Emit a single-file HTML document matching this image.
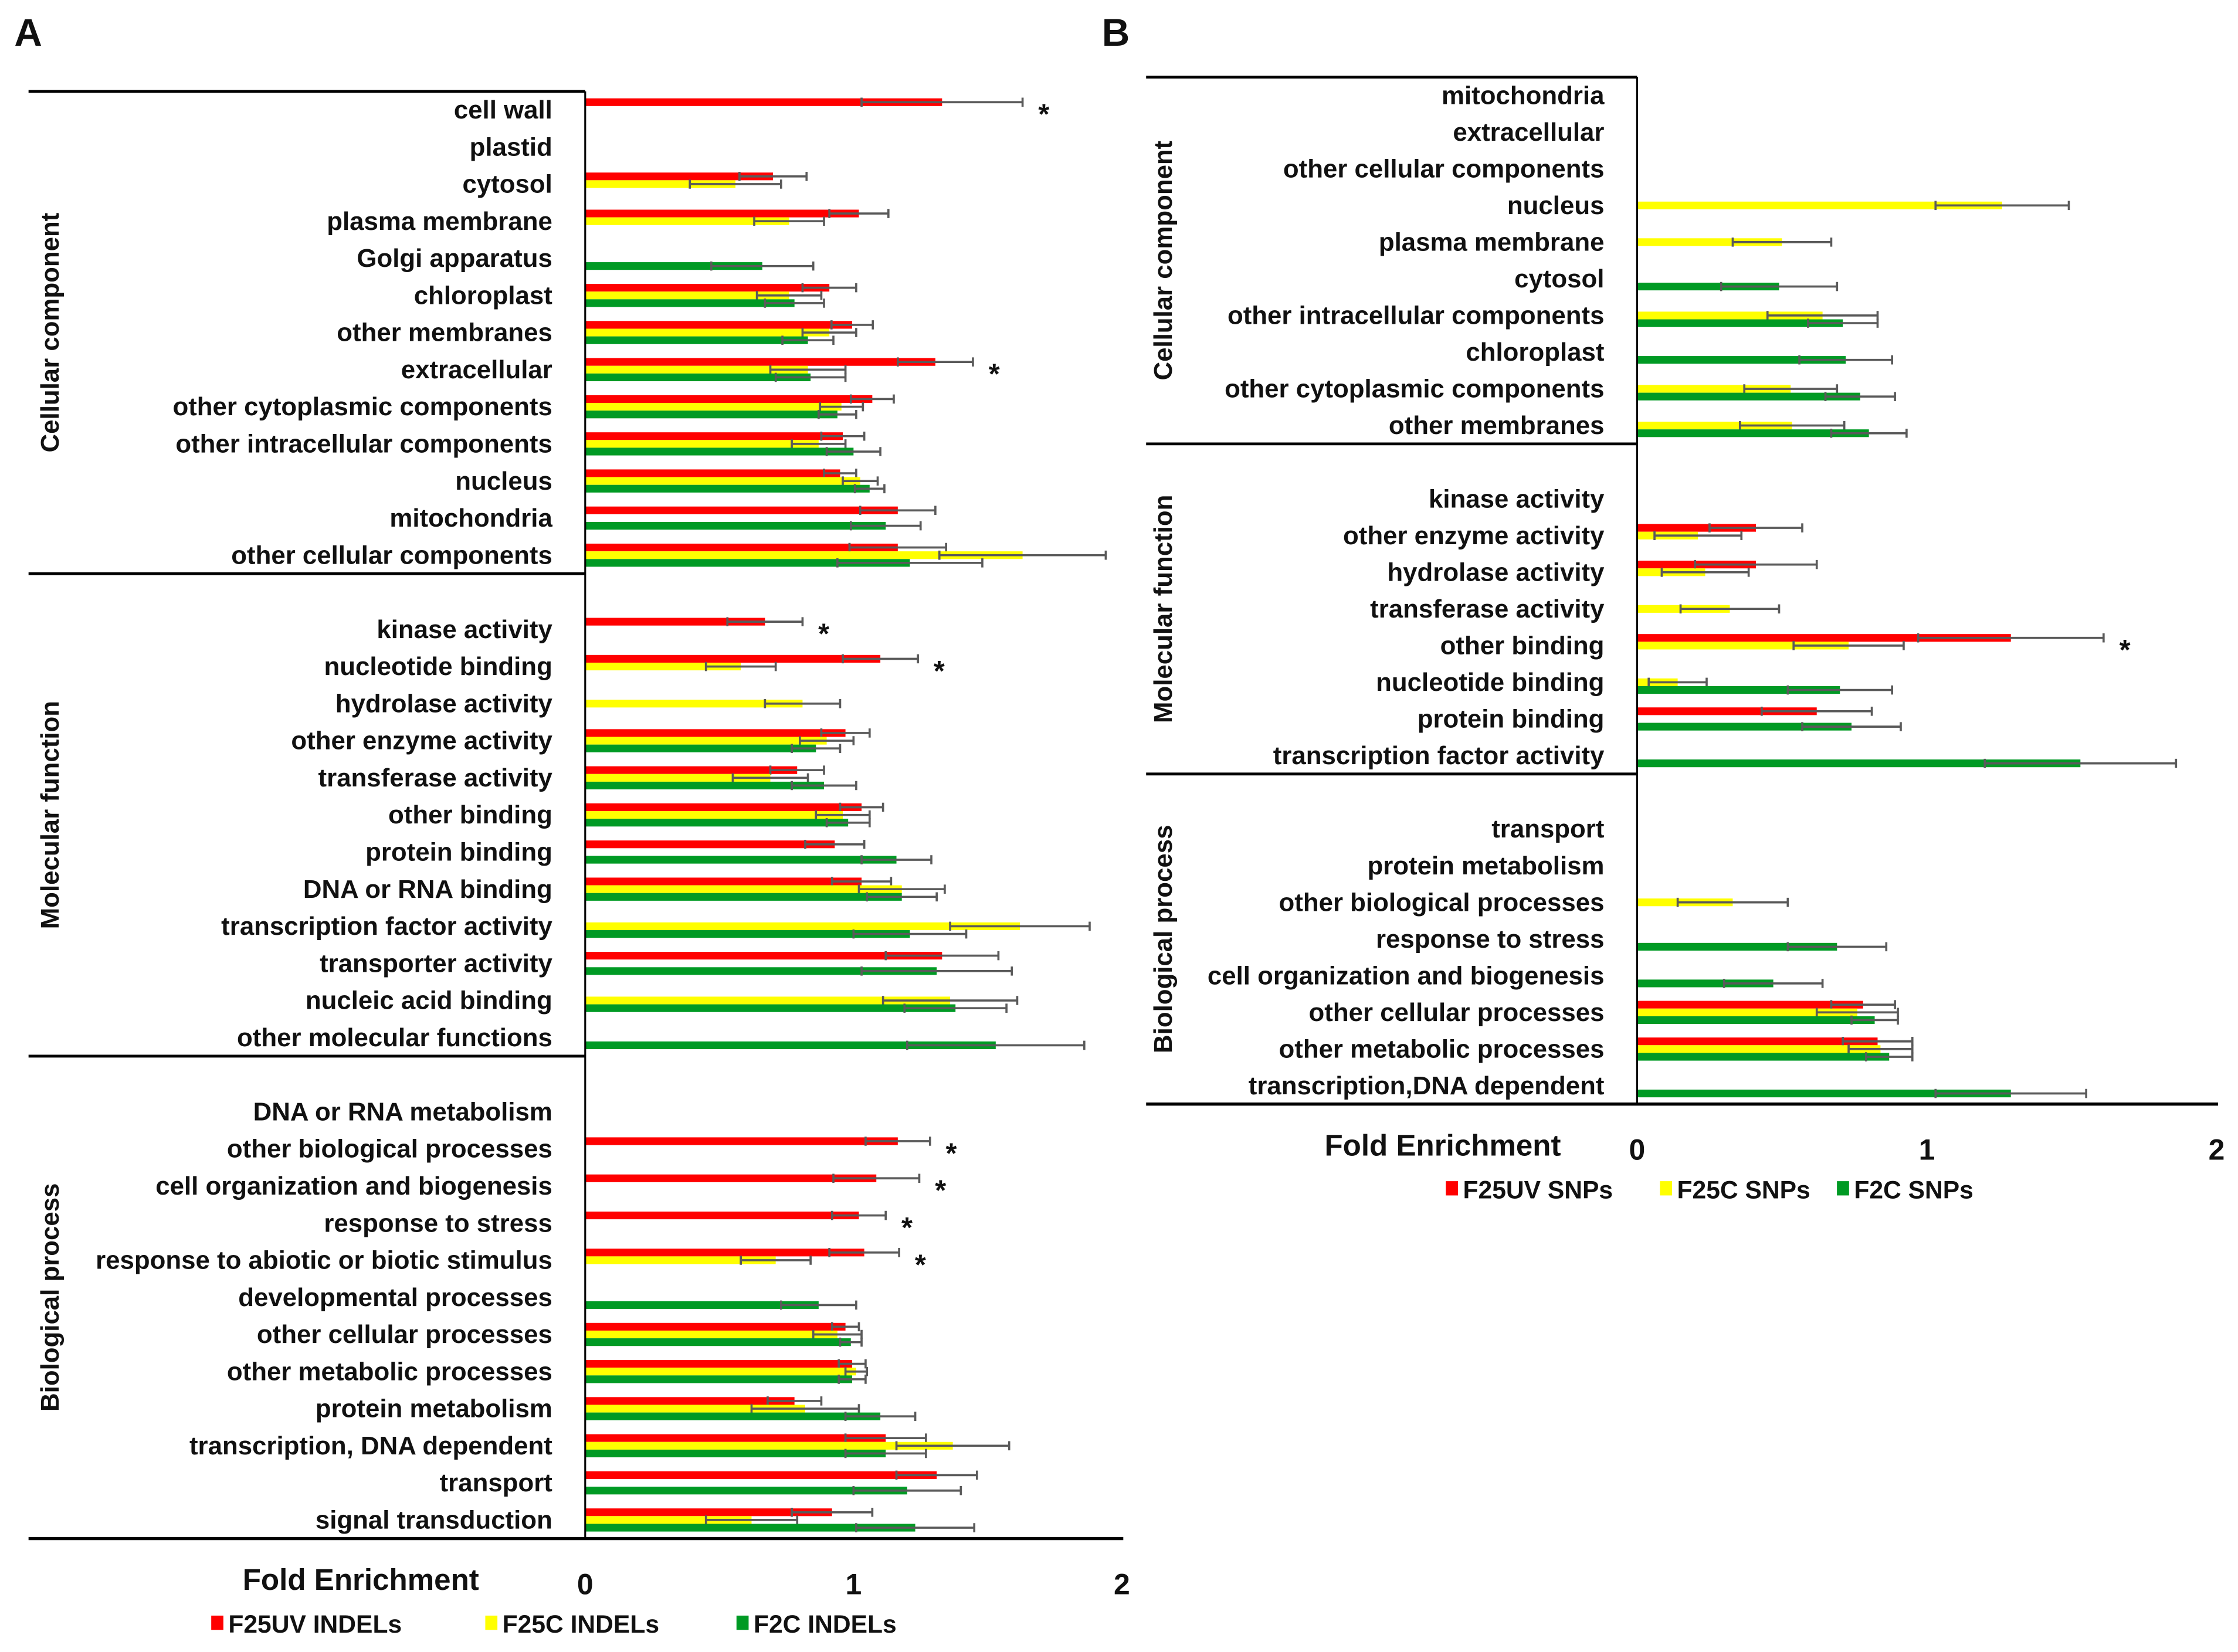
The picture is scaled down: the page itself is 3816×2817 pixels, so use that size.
<!DOCTYPE html>
<html><head><meta charset="utf-8">
<style>
html,body{margin:0;padding:0;background:#fff;}
svg{display:block;}
text{font-family:"Liberation Sans",sans-serif;fill:#111;}
</style></head>
<body>
<svg id="chart" width="3816" height="2817" viewBox="0 0 1568 1157.5" preserveAspectRatio="none" xmlns="http://www.w3.org/2000/svg">
</svg>
<script>
// ---------- Panel A data (INDELs) ----------
const catsA_CC = ["cell wall","plastid","cytosol","plasma membrane","Golgi apparatus","chloroplast","other membranes","extracellular","other cytoplasmic components","other intracellular components","nucleus","mitochondria","other cellular components"];
const redA_CC = [1.33,null,0.70,1.02,null,0.91,0.995,1.305,1.07,0.96,0.95,1.165,1.165];
const redErrA_CC = [0.30,0,0.125,0.11,0,0.10,0.077,0.14,0.08,0.08,0.06,0.14,0.18];
const yelA_CC = [null,null,0.56,0.76,null,0.76,0.91,0.83,0.955,0.87,1.025,null,1.63];
const yelErrA_CC = [0,0,0.17,0.13,0,0.12,0.10,0.14,0.08,0.10,0.065,0,0.31];
const grnA_CC = [null,null,null,null,0.66,0.78,0.83,0.84,0.94,1.00,1.06,1.12,1.21];
const grnErrA_CC = [0,0,0,0,0.19,0.11,0.095,0.13,0.07,0.10,0.055,0.13,0.27];

const catsA_MF = ["kinase activity","nucleotide binding","hydrolase activity","other enzyme activity","transferase activity","other binding","protein binding","DNA or RNA binding","transcription factor activity","transporter activity","nucleic acid binding","other molecular functions"];
const redA_MF = [0.67,1.10,null,0.97,0.79,1.03,0.93,1.03,null,1.33,null,null];
const redErrA_MF = [0.14,0.14,0,0.09,0.10,0.08,0.11,0.11,0,0.21,0,0];
const yelA_MF = [null,0.58,0.81,0.90,0.69,0.96,null,1.18,1.62,null,1.36,null];
const yelErrA_MF = [0,0.13,0.14,0.10,0.14,0.10,0,0.16,0.26,0,0.25,0];
const grnA_MF = [null,null,null,0.86,0.89,0.98,1.16,1.18,1.21,1.31,1.38,1.53];
const grnErrA_MF = [0,0,0,0.09,0.12,0.08,0.13,0.13,0.21,0.28,0.19,0.33];

const catsA_BP = ["DNA or RNA metabolism","other biological processes","cell organization and biogenesis","response to stress","response to abiotic or biotic stimulus","developmental processes","other cellular processes","other metabolic processes","protein metabolism","transcription, DNA dependent","transport","signal transduction"];
const redA_BP = [null,1.165,1.085,1.02,1.04,null,0.97,0.995,0.78,1.12,1.31,0.92];
const redErrA_BP = [0,0.12,0.16,0.10,0.13,0,0.05,0.05,0.10,0.15,0.15,0.15];
const yelA_BP = [null,null,null,null,0.71,null,0.94,1.01,0.82,1.37,null,0.62];
const yelErrA_BP = [0,0,0,0,0.13,0,0.09,0.04,0.20,0.21,0,0.17];
const grnA_BP = [null,null,null,null,null,0.87,0.99,0.995,1.10,1.12,1.20,1.23];
const grnErrA_BP = [0,0,0,0,0,0.14,0.04,0.05,0.13,0.15,0.20,0.22];

const starsA = ["cell wall","extracellular","kinase activity","nucleotide binding","other biological processes","cell organization and biogenesis","response to stress","response to abiotic or biotic stimulus"];

// ---------- Panel B data (SNPs) ----------
const catsB_CC = ["mitochondria","extracellular","other cellular components","nucleus","plasma membrane","cytosol","other intracellular components","chloroplast","other cytoplasmic components","other membranes"];
const redB_CC = [null,null,null,null,null,null,null,null,null,null];
const redErrB_CC = [0,0,0,0,0,0,0,0,0,0];
const yelB_CC = [null,null,null,1.26,0.50,null,0.64,null,0.53,0.535];
const yelErrB_CC = [0,0,0,0.23,0.17,0,0.19,0,0.16,0.18];
const grnB_CC = [null,null,null,null,null,0.49,0.71,0.72,0.77,0.80];
const grnErrB_CC = [0,0,0,0,0,0.20,0.12,0.16,0.12,0.13];

const catsB_MF = ["kinase activity","other enzyme activity","hydrolase activity","transferase activity","other binding","nucleotide binding","protein binding","transcription factor activity"];
const redB_MF = [null,0.41,0.41,null,1.29,null,0.62,null];
const redErrB_MF = [0,0.16,0.21,0,0.32,0,0.19,0];
const yelB_MF = [null,0.21,0.235,0.32,0.73,0.14,null,null];
const yelErrB_MF = [0,0.15,0.15,0.17,0.19,0.10,0,0];
const grnB_MF = [null,null,null,null,null,0.70,0.74,1.53];
const grnErrB_MF = [0,0,0,0,0,0.18,0.17,0.33];

const catsB_BP = ["transport","protein metabolism","other biological processes","response to stress","cell organization and biogenesis","other cellular processes","other metabolic processes","transcription,DNA dependent"];
const redB_BP = [null,null,null,null,null,0.78,0.83,null];
const redErrB_BP = [0,0,0,0,0,0.11,0.12,0];
const yelB_BP = [null,null,0.33,null,null,0.76,0.84,null];
const yelErrB_BP = [0,0,0.19,0,0,0.14,0.11,0];
const grnB_BP = [null,null,null,0.69,0.47,0.82,0.87,1.29];
const grnErrB_BP = [0,0,0,0.17,0.17,0.08,0.08,0.26];

const starsB = ["other binding"];

const axisTicks = [0,1,2];
const COLORS = ["#ff0000","#ffff00","#009a24"];

const svg = document.getElementById('chart');
const NS = "http://www.w3.org/2000/svg";
function el(tag, attrs, parent){
  const e = document.createElementNS(NS, tag);
  for (const k in attrs) e.setAttribute(k, attrs[k]);
  (parent||svg).appendChild(e);
  return e;
}
function txt(x,y,s,size,anchor,weight,parent){
  const t = el('text',{x:x,y:y,'font-size':size,'text-anchor':anchor||'start','font-weight':weight||'normal'},parent);
  t.textContent = s;
  return t;
}

function drawPanel(cfg){
  const g = el('g',{});
  
  
  const xs = v => cfg.x0 + v*cfg.unit;
  const BH = 5.4;
  const L = txt(cfg.letterX, 32, cfg.letter, 27, 'start', 'bold', g);
  
  
  let top = cfg.top;
  cfg.sections.forEach((sec, si) => {
    const nSlots = sec.cats.length + (sec.skipFirst?1:0);
    const h = nSlots*cfg.slot;
    const sep = el('line',{x1:cfg.leftX,x2:cfg.x0,y1:top,y2:top,stroke:'#000','stroke-width':2},g);
    
    
    const cy = top + h/2;
    const st = el('text',{x:0,y:0,'font-size':18,'font-weight':'bold','text-anchor':'middle',transform:`translate(${cfg.titleX},${cy}) rotate(-90)`},g);
    st.textContent = sec.title;
    
    
    sec.cats.forEach((c, i) => {
      const yc = top + (i + (sec.skipFirst?1:0) + 0.5)*cfg.slot;
      const lab = txt(cfg.x0-23, yc+6, c, 18, 'end', 'bold', g);
      
      
      const series = [[sec.r, sec.re],[sec.y, sec.ye],[sec.g, sec.ge]];
      let maxEnd = 0;
      series.forEach((s, k) => {
        const v = s[0][i];
        if (v === null || v === undefined) return;
        const e = s[1][i];
        const by = yc + (k-1)*BH - BH/2;
        const bar = el('rect',{x:cfg.x0, y:by, width:xs(v)-cfg.x0, height:BH, fill:COLORS[k]},g);
        
        
        const ey = by + BH/2;
        const eb = el('path',{d:`M${xs(v-e)},${ey}H${xs(v+e)}M${xs(v-e)},${ey-3.2}V${ey+3.2}M${xs(v+e)},${ey-3.2}V${ey+3.2}`,stroke:'#5a5a5a','stroke-width':1.5,fill:'none'},g);
        
        
        maxEnd = Math.max(maxEnd, xs(v+e));
      });
      if (cfg.stars.indexOf(c) >= 0) {
        const s = txt(maxEnd+11, yc+10, '*', 20, 'start', 'bold', g);
        
        
      }
    });
    top += h;
  });
  const bl = el('line',{x1:cfg.leftX,x2:xs(2)+1,y1:top,y2:top,stroke:'#000','stroke-width':2.2},g);
  
  
  const vl = el('line',{x1:cfg.x0,x2:cfg.x0,y1:cfg.top,y2:top,stroke:'#000','stroke-width':1.3},g);
  
  
  axisTicks.forEach(t => {
    const tl = txt(xs(t), top+39, String(t), 20.5, 'middle', 'bold', g);
    
    
  });
  const at = txt(cfg.foldX, top+36, 'Fold Enrichment', 21, 'start', 'bold', g);
  
  
  cfg.legend.forEach((lg, k) => {
    const r = el('rect',{x:lg[0], y:top+54, width:8.5, height:10, fill:COLORS[k]},g);
    
    
    const t = txt(lg[0]+12, top+66, lg[1], 17.5, 'start', 'bold', g);
    
    
  });
}

drawPanel({
  name:'panel-a', letter:'A', letterX:10, top:64, slot:26, x0:410, unit:188, leftX:20, titleX:41, foldX:170,
  stars:starsA,
  legend:[[148,'F25UV INDELs'],[340,'F25C INDELs'],[516,'F2C INDELs']],
  sections:[
    {title:'Cellular component', cats:catsA_CC, skipFirst:false, r:redA_CC, re:redErrA_CC, y:yelA_CC, ye:yelErrA_CC, g:grnA_CC, ge:grnErrA_CC},
    {title:'Molecular function', cats:catsA_MF, skipFirst:true, r:redA_MF, re:redErrA_MF, y:yelA_MF, ye:yelErrA_MF, g:grnA_MF, ge:grnErrA_MF},
    {title:'Biological process', cats:catsA_BP, skipFirst:true, r:redA_BP, re:redErrA_BP, y:yelA_BP, ye:yelErrA_BP, g:grnA_BP, ge:grnErrA_BP}
  ]
});
drawPanel({
  name:'panel-b', letter:'B', letterX:772, top:54, slot:25.7, x0:1147, unit:203, leftX:803, titleX:821, foldX:928,
  stars:starsB,
  legend:[[1013,'F25UV SNPs'],[1163,'F25C SNPs'],[1287,'F2C SNPs']],
  sections:[
    {title:'Cellular component', cats:catsB_CC, skipFirst:false, r:redB_CC, re:redErrB_CC, y:yelB_CC, ye:yelErrB_CC, g:grnB_CC, ge:grnErrB_CC},
    {title:'Molecular function', cats:catsB_MF, skipFirst:true, r:redB_MF, re:redErrB_MF, y:yelB_MF, ye:yelErrB_MF, g:grnB_MF, ge:grnErrB_MF},
    {title:'Biological process', cats:catsB_BP, skipFirst:true, r:redB_BP, re:redErrB_BP, y:yelB_BP, ye:yelErrB_BP, g:grnB_BP, ge:grnErrB_BP}
  ]
});
</script>
</body></html>
